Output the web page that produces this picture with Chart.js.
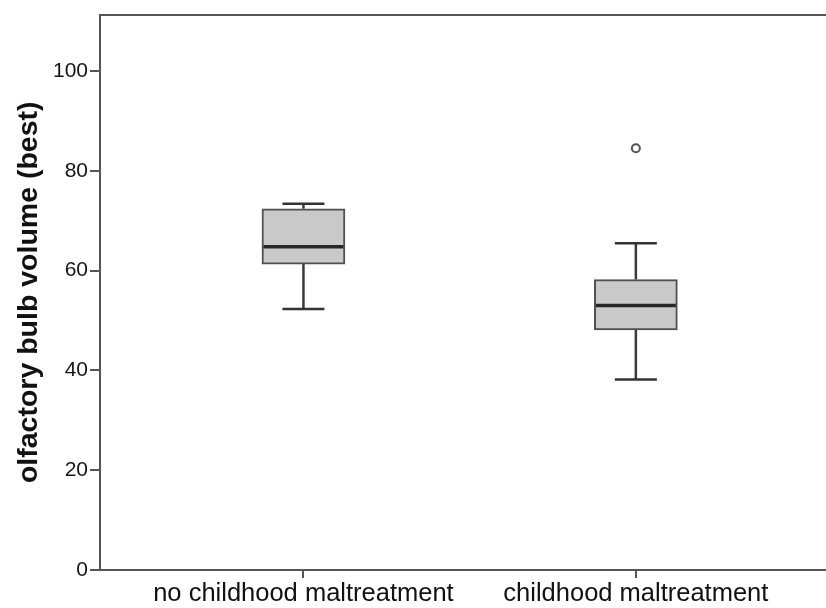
<!DOCTYPE html>
<html>
<head>
<meta charset="utf-8">
<script src="https://cdn.jsdelivr.net/npm/chart.js@4/dist/chart.umd.min.js"></script>
<style>
    body { margin: 0; background: #fff; }
</style>
</head>
<body>
<canvas id="boxChart" width="826" height="608"></canvas>
<script>
    // categories + box plot stats
    const categories = ['no childhood maltreatment', 'childhood maltreatment'];
    const whiskerLow = [52.3, 38.2];
    const q1 = [61.3, 48.1];
    const median = [64.8, 53.0];
    const q3 = [72.4, 58.2];
    const whiskerHigh = [73.4, 65.5];
    const outlierGroup = [2];   // 1-based category index
    const outlierValue = [84.5];
    const yTicks = [0, 20, 40, 60, 80, 100];

    const font = "'Liberation Sans', Arial, sans-serif";
    const lineColor = '#555555';

    // boxes as floating bars
    const boxData = categories.map((c, i) => ({ x: i + 1, y: [q1[i], q3[i]] }));

    // whisker stems, null breaks the line between groups
    const stemData = [];
    categories.forEach((c, i) => {
        stemData.push({ x: i + 1, y: q3[i] }, { x: i + 1, y: whiskerHigh[i] }, { x: i + 1, y: null });
        stemData.push({ x: i + 1, y: whiskerLow[i] }, { x: i + 1, y: q1[i] }, { x: i + 1, y: null });
    });

    const capData = [];
    categories.forEach((c, i) => {
        capData.push({ x: i + 1, y: whiskerLow[i] }, { x: i + 1, y: whiskerHigh[i] });
    });

    const medianData = categories.map((c, i) => ({ x: i + 1, y: median[i] }));
    const outlierData = outlierGroup.map((g, i) => ({ x: g, y: outlierValue[i] }));

    const canvas = document.getElementById('boxChart');

    // note: lower "order" is drawn on top
    let boxChart = new Chart(canvas, {
        type: 'bar',
        data: {
            datasets: [
                {
                    type: 'line',
                    order: 4,
                    data: stemData,
                    borderColor: '#3a3a3a',
                    borderWidth: 2.5,
                    pointRadius: 0,
                    spanGaps: false
                },
                {
                    type: 'bar',
                    order: 3,
                    data: boxData,
                    backgroundColor: '#c9c9c9',
                    borderColor: '#4f4f4f',
                    borderWidth: 2,
                    borderSkipped: false,
                    barThickness: 83
                },
                {
                    type: 'scatter',
                    order: 2,
                    data: capData,
                    pointStyle: 'line',
                    pointRadius: 21,
                    borderColor: '#333333',
                    borderWidth: 2.5,
                    showLine: false
                },
                {
                    type: 'scatter',
                    order: 1,
                    data: medianData,
                    pointStyle: 'line',
                    pointRadius: 40,
                    borderColor: '#262626',
                    borderWidth: 3.5,
                    showLine: false
                },
                {
                    type: 'scatter',
                    order: 0,
                    data: outlierData,
                    pointStyle: 'circle',
                    pointRadius: 4,
                    backgroundColor: '#ffffff',
                    borderColor: '#555555',
                    borderWidth: 2,
                    showLine: false
                }
            ]
        },
        options: {
            responsive: false,
            animation: false,
            layout: { autoPadding: false, padding: { top: 13, right: 0, left: 0, bottom: 0 } },
            plugins: {
                legend: { display: false },
                tooltip: { enabled: false }
            },
            scales: {
                x: {
                    type: 'linear',
                    position: 'bottom',
                    offset: false,
                    min: 0.388,
                    max: 2.572,
                    afterBuildTicks: s => { s.ticks = categories.map((c, i) => ({ value: i + 1 })); },
                    afterFit: s => { s.height = 38; },
                    grid: { offset: false, drawOnChartArea: false, tickLength: 8, color: lineColor, lineWidth: 2 },
                    border: { display: true, color: lineColor, width: 2 },
                    ticks: {
                        autoSkip: false,
                        maxRotation: 0,
                        padding: 1,
                        color: '#111111',
                        font: { family: font, size: 25.5 },
                        callback: v => categories[v - 1]
                    }
                },
                xTop: {
                    type: 'linear',
                    position: 'top',
                    offset: false,
                    min: 0,
                    max: 1,
                    afterFit: s => { s.height = 0; },
                    grid: { display: false, offset: false },
                    ticks: { display: false },
                    border: { display: true, color: lineColor, width: 2 }
                },
                y: {
                    min: 0,
                    max: 111.3,
                    afterBuildTicks: s => { s.ticks = yTicks.map(v => ({ value: v })); },
                    afterFit: s => { s.width = 100; },
                    grid: { drawOnChartArea: false, tickLength: 10, color: lineColor, lineWidth: 2 },
                    border: { display: true, color: lineColor, width: 2 },
                    ticks: {
                        padding: 2,
                        color: '#151515',
                        font: { family: font, size: 21 }
                    },
                    title: {
                        display: true,
                        text: 'olfactory bulb volume (best)',
                        color: '#111111',
                        padding: { top: 12, bottom: 0 },
                        font: { family: font, size: 28.5, weight: 'bold' }
                    }
                }
            }
        }
    });
</script>
</body>
</html>
